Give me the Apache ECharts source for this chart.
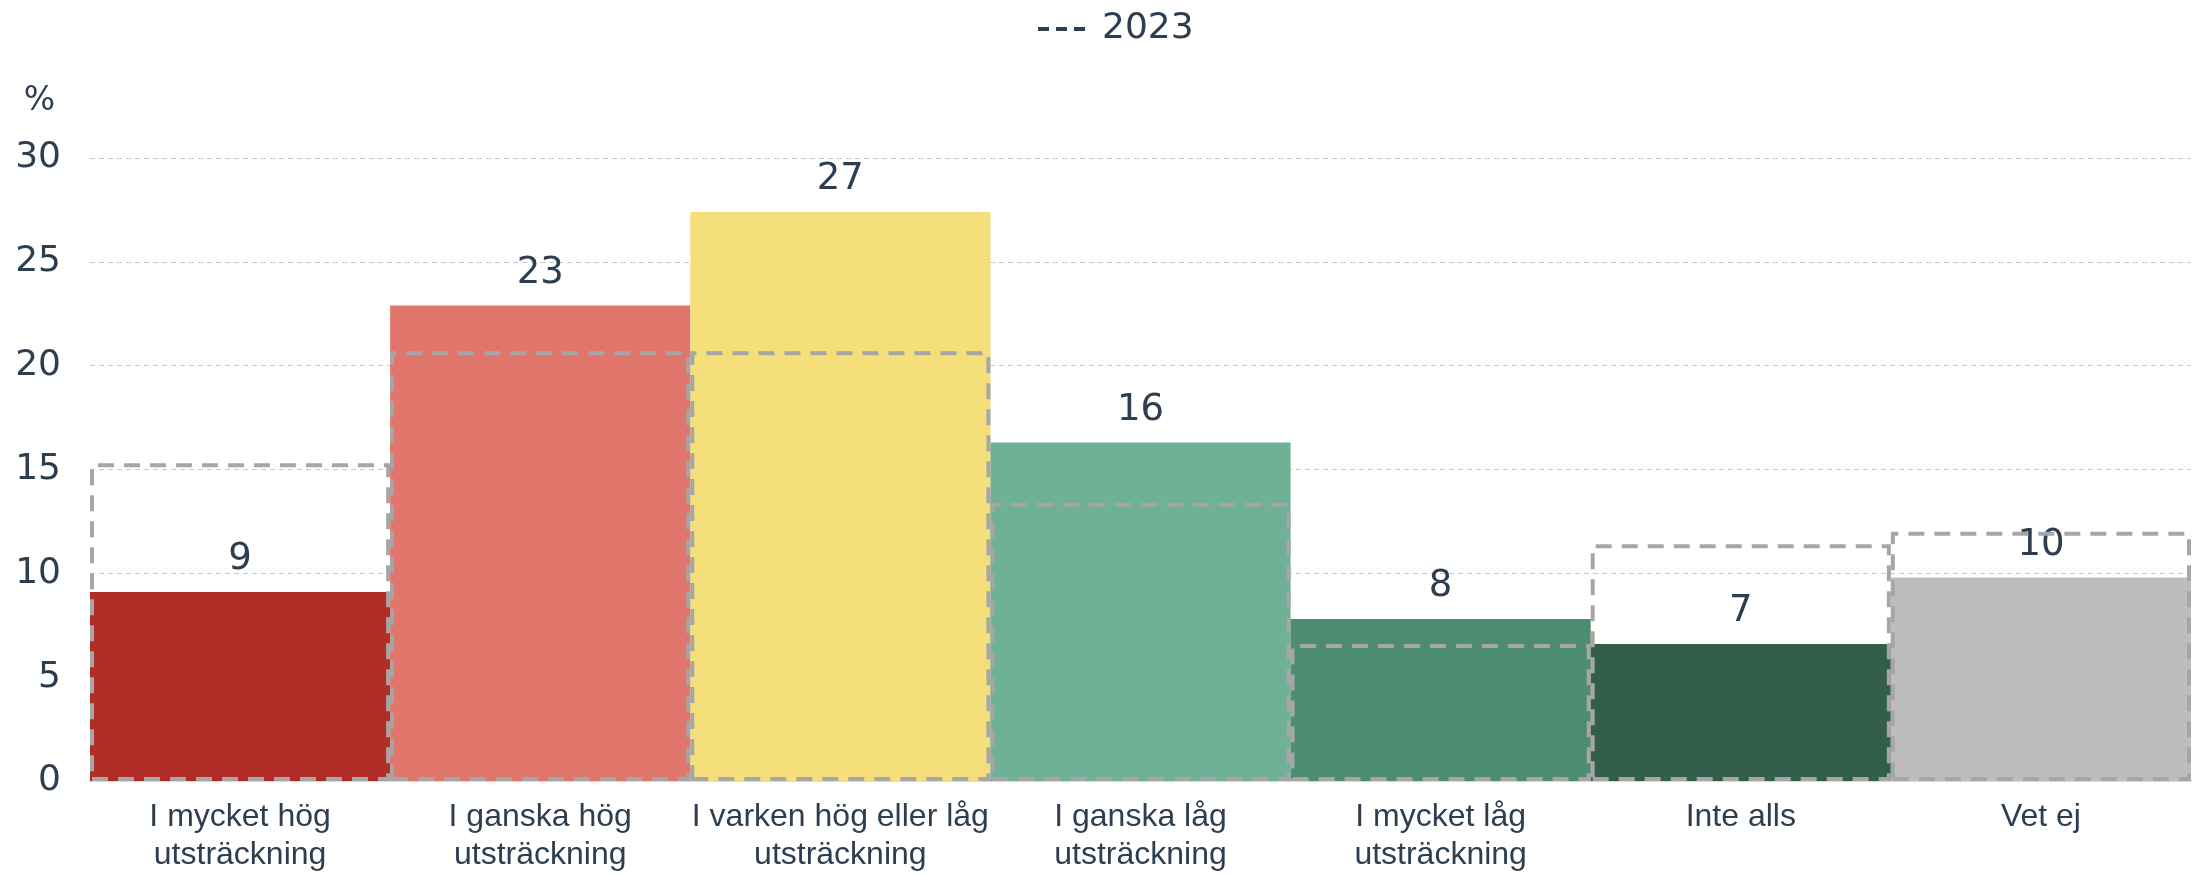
<!DOCTYPE html>
<html>
<head>
<meta charset="utf-8">
<script src="https://cdn.jsdelivr.net/npm/echarts@6/dist/echarts.min.js"></script>
<style>
  html, body { margin: 0; padding: 0; background: #fff; }
  #chart { width: 2199px; height: 874px; }
</style>
</head>
<body>
<div id="chart"></div>
<script>
// svarsalternativ och andelar (%)
const categories = [
    'I mycket hög\nutsträckning',
    'I ganska hög\nutsträckning',
    'I varken hög eller låg\nutsträckning',
    'I ganska låg\nutsträckning',
    'I mycket låg\nutsträckning',
    'Inte alls',
    'Vet ej'
];
const values2024 = [9.1, 22.9, 27.4, 16.3, 7.8, 6.6, 9.8];
const values2023 = [15.3, 20.7, 20.7, 13.4, 6.6, 11.4, 12.0];
const barColors = ['#b02e27', '#e0756c', '#f5df7b', '#6fb196', '#4c8d71', '#345e4c', '#bdbdbd'];
const yTicks = [0, 5, 10, 15, 20, 25, 30];

const textColor = '#2d3e50';
const numFont = "'DejaVu Sans', sans-serif";
const catFont = "'Liberation Sans', Arial, sans-serif";
const chart = echarts.init(document.getElementById('chart'));

const option = {
    animation: false,
    legend: {
        data: ['2023'],
        top: 6,
        left: 1033,
        itemWidth: 47,
        itemHeight: 5,
        icon: 'path://M0,0h11v4h-11z M18,0h11v4h-11z M36,0h11v4h-11z',
        itemStyle: { color: textColor, borderWidth: 0 },
        textStyle: { fontFamily: numFont, fontSize: 36, color: textColor, padding: [0, 0, 0, 12] }
    },
    grid: { left: 90, right: 8, top: 158, bottom: 93 },
    xAxis: {
        type: 'category',
        data: categories,
        axisLine: { show: true, lineStyle: { color: '#d9d9d9', width: 2 } },
        axisTick: { show: false },
        axisLabel: {
            interval: 0,
            margin: 17,
            fontFamily: catFont,
            fontSize: 32,
            lineHeight: 38,
            color: textColor
        }
    },
    yAxis: {
        type: 'value',
        min: yTicks[0],
        max: yTicks[yTicks.length - 1],
        interval: 5,
        name: '%',
        nameLocation: 'end',
        nameGap: 40,
        nameTextStyle: { fontFamily: numFont, fontSize: 33, color: textColor, align: 'right', padding: [0, 35, 0, 0] },
        axisLine: { show: false },
        axisTick: { show: false },
        axisLabel: { margin: 29, fontFamily: numFont, fontSize: 36, color: textColor },
        splitLine: { lineStyle: { color: '#c8c8c8', type: [5, 4], width: 1.2 } }
    },
    series: [
        {
            name: '2024',
            type: 'bar',
            barWidth: '100%',
            barGap: '-100%',
            data: values2024.map((v, i) => ({ value: v, itemStyle: { color: barColors[i] } })),
            label: {
                show: true,
                position: 'top',
                distance: 14,
                fontFamily: numFont,
                fontSize: 37,
                color: textColor,
                formatter: p => Math.round(p.value)
            },
            z: 2
        },
        {
            name: '2023',
            type: 'bar',
            barWidth: '100%',
            barGap: '-100%',
            data: values2023,
            itemStyle: {
                color: 'rgba(0,0,0,0)',
                borderColor: '#a6a6a6',
                borderWidth: 4,
                borderType: [16, 10]
            },
            z: 3
        }
    ]
};
option && chart.setOption(option);
</script>
</body>
</html>
